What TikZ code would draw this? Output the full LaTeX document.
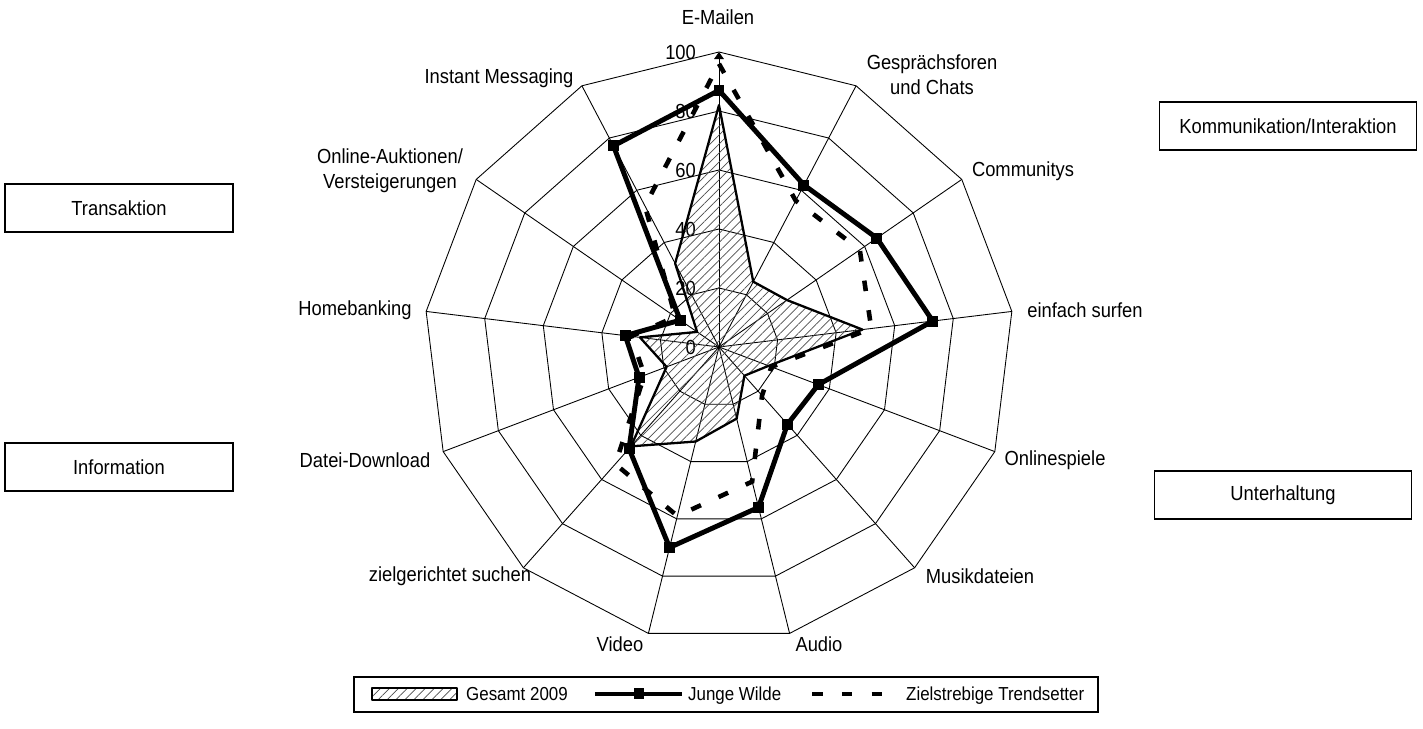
\documentclass[tikz,border=0pt]{standalone}
\usepackage{fontspec}
\setmainfont{Liberation Sans}[FakeStretch=0.9]
\usepackage{tikz}
\usetikzlibrary{arrows.meta,patterns.meta}

\begin{document}
\begin{tikzpicture}[x=0.02cm,y=0.02cm,
        font=\fontsize{11.6pt}{14pt}\selectfont,
        grid/.style={line width=0.5pt},
        gesamt/.style={line width=1.3pt, line join=round, pattern={Lines[angle=45,distance=3.6pt,line width=0.4pt]}, pattern color=black!70},
        junge/.style={line width=2.8pt, line join=round},
        ziel/.style={line width=2.6pt, dash pattern=on 6pt off 11pt},
        sq/.style={fill=black, inner sep=0pt, minimum size=0.22cm},
        legtext/.style={anchor=base west, font=\fontsize{10.7pt}{13pt}\selectfont},
        catbox/.style={draw, line width=1.1pt, minimum width=4.56cm, minimum height=0.96cm}]
        \useasboundingbox (-719,-382) rectangle (704,347);
        % net: rings at 20,40,...,100 and 13 spokes
        \foreach \r in {59,118,177,236,295}
            \draw[grid] (90:\r) \foreach \k in {1,...,12} {-- ({90-\k*27.6923}:\r)} -- cycle;
        \foreach \k in {1,...,12}
            \draw[grid] (0,0) -- ({90-\k*27.6923}:295);
        \draw[grid, -{Triangle[length=4pt,width=5.5pt]}] (0,0) -- (0,295);
        \foreach \v in {0,20,40,60,80,100}
            \node[anchor=east, inner sep=1pt] (t\v) at (-21,2.95*\v) {\v};
        % axis labels
        \node (l0) at (-1,330) {E-Mailen};
        \node[align=center] (l1) at (213,272) {Gesprächsforen\\und Chats};
        \node (l2) at (304,176) {Communitys};
        \node (l3) at (366,37) {einfach surfen};
        \node (l4) at (336,-113) {Onlinespiele};
        \node (l5) at (261,-229) {Musikdateien};
        \node (l6) at (100,-297) {Audio};
        \node (l7) at (-99,-297) {Video};
        \node (l8) at (-269,-229) {zielgerichtet suchen};
        \node (l9) at (-354,-113) {Datei-Download};
        \node (l10) at (-364,37) {Homebanking};
        \node[align=center] (l11) at (-329,176) {Online-Auktionen/\\Versteigerungen};
        \node (l12) at (-220,269) {Instant Messaging};
        % data
        \foreach \v [count=\k from 0] in {82,25,28,49,18,13,25,33,45,19,27,9,32}
            \coordinate (g\k) at ({90-\k*27.6923}:{2.95*\v});
        \foreach \v [count=\k from 0] in {96,56,58,52,19,22,47,59,53,27,30,18,54}
            \coordinate (z\k) at ({90-\k*27.6923}:{2.95*\v});
        \foreach \v [count=\k from 0] in {87,62,65,73,36,35,56,70,46,29,32,16,77}
            \coordinate (j\k) at ({90-\k*27.6923}:{2.95*\v});
        \draw[gesamt] (g0) \foreach \k in {1,...,12} {-- (g\k)} -- cycle;
        \draw[ziel] (z0) \foreach \k in {1,...,12} {-- (z\k)} -- cycle;
        \draw[junge] (j0) \foreach \k in {1,...,12} {-- (j\k)} -- cycle;
        \foreach \k in {0,...,12}
            \node[sq] (js\k) at (j\k) {};
        % groups
        \node[catbox] (trans) at (-600,139) {Transaktion};
        \node[catbox] (info) at (-600,-120) {Information};
        \node[catbox, minimum width=5.14cm] (komm) at (569,221) {Kommunikation/Interaktion};
        \node[catbox, minimum width=5.14cm] (unter) at (564,-148) {Unterhaltung};
        % legend
        \node[draw, line width=1.1pt, minimum width=14.88cm, minimum height=0.7cm] (legend) at (7,-347.5) {};
        \draw[gesamt] (-347,-341) rectangle (-262,-353);
        \node[legtext] (leg1) at (-259,-354) {Gesamt 2009};
        \draw[junge] (-124,-347) -- (-37,-347);
        \node[sq] (legsq) at (-80,-347) {};
        \node[legtext] (leg2) at (-37,-354) {Junge Wilde};
        \draw[ziel] (93,-347) -- (163,-347);
        \node[legtext] (leg3) at (181,-354) {Zielstrebige Trendsetter};
\end{tikzpicture}
\end{document}
